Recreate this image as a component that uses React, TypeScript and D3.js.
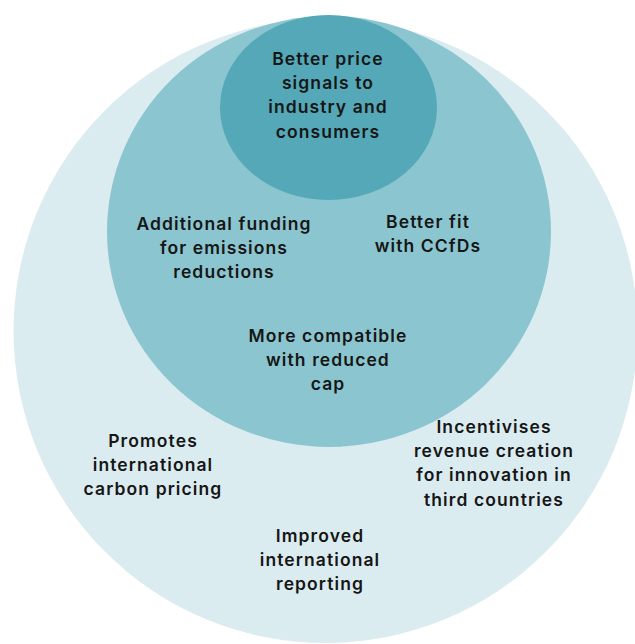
import * as d3 from "d3";
import { useEffect } from "react";

const ringNames = ["outer", "middle", "inner"];
const ringColors = ["#dbecf1", "#8bc5cf", "#54a8b8"];

const innerLabel = ["Better price", "signals to", "industry and", "consumers"];
const fundingLabel = ["Additional funding", "for emissions", "reductions"];
const ccfdLabel = ["Better fit", "with CCfDs"];
const capLabel = ["More compatible", "with reduced", "cap"];
const pricingLabel = ["Promotes", "international", "carbon pricing"];
const revenueLabel = ["Incentivises", "revenue creation", "for innovation in", "third countries"];
const reportingLabel = ["Improved", "international", "reporting"];

const width = 635;
const height = 644;

// ellipse geometry per ring (pixels)
const ringShape = {
  outer: { cx: 325.5, cy: 331, rx: 312, ry: 312 },
  middle: { cx: 329, cy: 231.5, rx: 222, ry: 215.5 },
  inner: { cx: 328.5, cy: 107.5, rx: 108.5, ry: 92.5 },
};

const labelBlocks = [
  { lines: innerLabel, x: 328, y: 65 },
  { lines: fundingLabel, x: 224, y: 230 },
  { lines: ccfdLabel, x: 428, y: 228 },
  { lines: capLabel, x: 328, y: 342 },
  { lines: pricingLabel, x: 153, y: 447 },
  { lines: revenueLabel, x: 494, y: 433 },
  { lines: reportingLabel, x: 320, y: 542 },
];

export default function App() {
  useEffect(() => {
    document.body.style.margin = "0";
  }, []);

  const color = d3.scaleOrdinal<string, string>().domain(ringNames).range(ringColors);
  const lineH = 24.2;

  return (
    <svg width={width} height={height} viewBox={`0 0 ${width} ${height}`} style={{ display: "block" }}>
      <rect width={width} height={height} fill="#ffffff" />
      {ringNames.map((name) => {
        const s = ringShape[name as keyof typeof ringShape];
        return <ellipse key={name} cx={s.cx} cy={s.cy} rx={s.rx} ry={s.ry} fill={color(name)} />;
      })}
      <g
        fontFamily="Inter, 'Open Sans', sans-serif"
        fontWeight={600}
        fontSize={17.5}
        letterSpacing={1.1}
        fill="#161616"
        textAnchor="middle"
      >
        {labelBlocks.map((b, i) => (
          <text key={i} x={b.x} y={b.y}>
            {b.lines.map((line, j) => (
              <tspan key={j} x={b.x} y={b.y + j * lineH}>
                {line}
              </tspan>
            ))}
          </text>
        ))}
      </g>
    </svg>
  );
}
